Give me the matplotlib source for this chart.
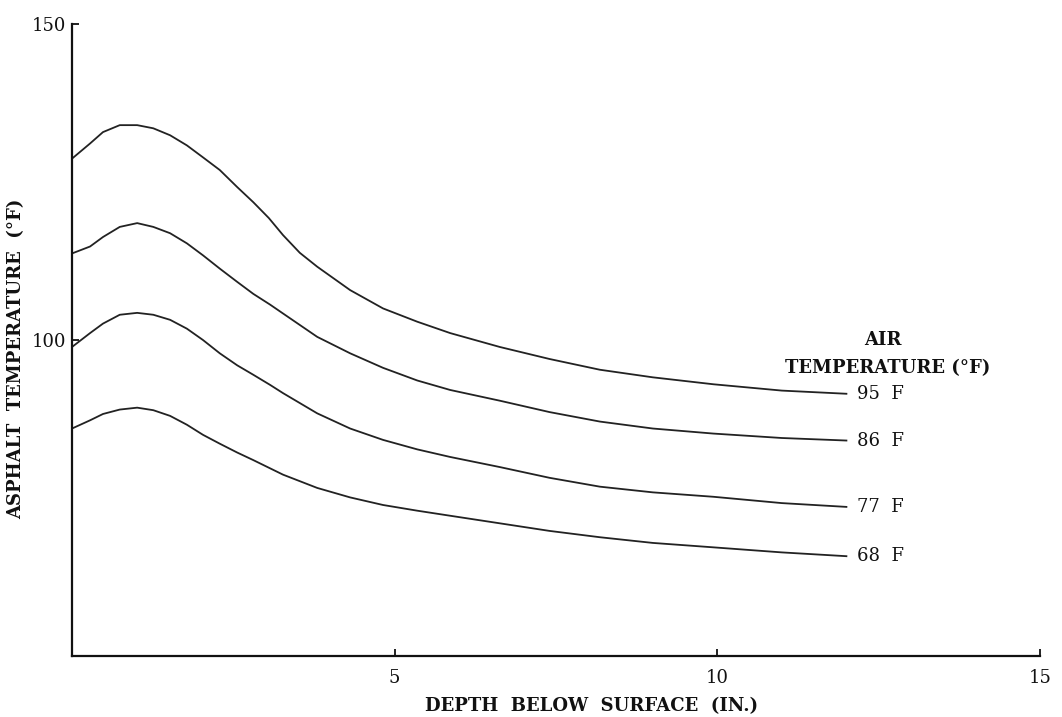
# Asphalt temperature vs depth below surface, for four air temperatures

import matplotlib.pyplot as plt

# ==============================================================================
# Values

depth_95 = [0.0, 0.28, 0.48, 0.74, 1.01, 1.26, 1.52, 1.78, 2.03, 2.29, 2.56, 2.81, 3.05,
            3.27, 3.53, 3.80, 4.31, 4.82, 5.35, 5.86, 6.63, 7.4, 8.18, 9.0, 9.94, 11.0, 12.0]
temp_95 = [128.7, 131.1, 132.9, 134.0, 134.0, 133.5, 132.4, 130.8, 128.9, 126.9, 124.2, 121.8, 119.3,
           116.6, 113.8, 111.6, 107.9, 105.0, 102.9, 101.1, 98.9, 97.0, 95.3, 94.1, 93.0, 92.0, 91.5]

depth_86 = [0.0, 0.28, 0.48, 0.74, 1.01, 1.26, 1.52, 1.78, 2.03, 2.29, 2.56, 2.81, 3.07,
            3.27, 3.80, 4.31, 4.82, 5.35, 5.86, 6.63, 7.4, 8.18, 9.0, 9.94, 11.0, 12.0]
temp_86 = [113.7, 114.8, 116.3, 117.9, 118.5, 117.9, 116.9, 115.3, 113.4, 111.3, 109.2, 107.3, 105.6,
           104.2, 100.5, 97.9, 95.6, 93.6, 92.1, 90.4, 88.6, 87.1, 86.0, 85.2, 84.5, 84.1]

depth_77 = [0.0, 0.28, 0.48, 0.74, 1.01, 1.26, 1.52, 1.78, 2.03, 2.29, 2.56, 2.81, 3.07,
            3.27, 3.80, 4.31, 4.82, 5.35, 5.86, 6.63, 7.4, 8.18, 9.0, 9.94, 11.0, 12.0]
temp_77 = [98.9, 101.1, 102.6, 104.0, 104.3, 104.0, 103.2, 101.8, 100.0, 97.9, 96.0, 94.5, 92.9,
           91.6, 88.4, 86.0, 84.2, 82.7, 81.5, 79.9, 78.2, 76.8, 75.9, 75.2, 74.2, 73.6]

depth_68 = [0.0, 0.28, 0.48, 0.74, 1.01, 1.26, 1.52, 1.78, 2.03, 2.29, 2.56, 2.81, 3.05,
            3.27, 3.80, 4.31, 4.82, 5.35, 5.86, 6.63, 7.4, 8.18, 9.0, 9.94, 11.0, 12.0]
temp_68 = [86.0, 87.3, 88.3, 89.0, 89.3, 88.9, 88.0, 86.6, 85.0, 83.6, 82.2, 81.0, 79.8,
           78.7, 76.6, 75.1, 73.9, 73.0, 72.2, 71.0, 69.8, 68.8, 67.9, 67.2, 66.4, 65.8]

curves = [(depth_95, temp_95, "95  F"),
          (depth_86, temp_86, "86  F"),
          (depth_77, temp_77, "77  F"),
          (depth_68, temp_68, "68  F")]

x_ticks = [5, 10, 15]
y_ticks = [100, 150]

# ------------------------------------------------------------------------------

plt.rcParams['font.family'] = ['DejaVu Serif']

fig = plt.figure(figsize=(10.62, 7.17), dpi=100)
ax = fig.add_axes([0.0678, 0.085, 0.9115, 0.8815])

for xs, ys, label in curves:
  ax.plot(xs, ys, color="#222222", lw=1.3, solid_joinstyle="round")
  ax.text(xs[-1] + 0.16, ys[-1], label, fontsize=13, va="center", ha="left",
          color="#111111")

ax.text(12.57, 100.0, "AIR", fontsize=13, ha="center", va="center",
        fontweight="bold", color="#111111")
ax.text(12.64, 95.6, "TEMPERATURE (°F)", fontsize=13, ha="center", va="center",
        fontweight="bold", color="#111111")

ax.set_xlim(0, 15)
ax.set_ylim(50, 150)
ax.set_xticks(x_ticks)
ax.set_yticks(y_ticks)
ax.tick_params(direction="in", length=5, width=1.3, labelsize=13, colors="#111111")
ax.tick_params(axis="x", pad=9)
ax.tick_params(axis="y", pad=4)

for side in ["top", "right"]:
  ax.spines[side].set_visible(False)
for side in ["left", "bottom"]:
  ax.spines[side].set_linewidth(1.6)
  ax.spines[side].set_color("#111111")

ax.set_xlabel("DEPTH  BELOW  SURFACE  (IN.)", fontsize=13, fontweight="bold",
              color="#111111")
ax.xaxis.set_label_coords(0.537, -0.065)
ax.set_ylabel("ASPHALT  TEMPERATURE  (°F)", fontsize=13, fontweight="bold",
              color="#111111")
ax.yaxis.set_label_coords(-0.048, 0.47)

fig.savefig("out.png", dpi=100)
